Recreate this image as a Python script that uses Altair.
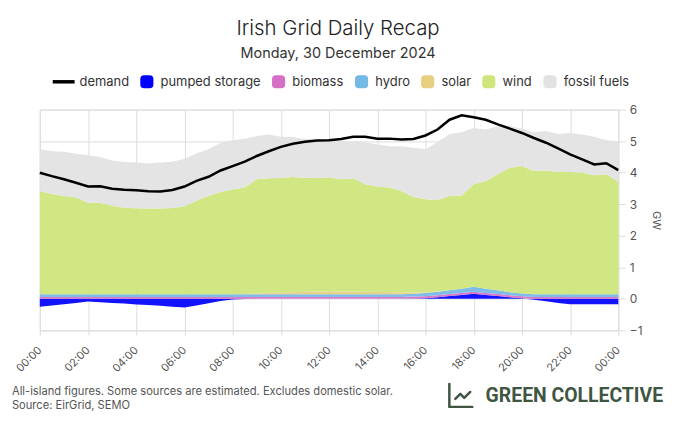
import altair as alt
import pandas as pd

# half-hourly timestamps, 30 Dec 2024 00:00 -> 31 Dec 2024 00:00
times = [f"2024-12-30T{h:02d}:{m:02d}:00" for h in range(24) for m in (0, 30)] + ["2024-12-31T00:00:00"]

demand = [4.00, 3.89, 3.79, 3.68, 3.56, 3.57, 3.49, 3.46, 3.44, 3.41,
          3.40, 3.45, 3.56, 3.74, 3.87, 4.07, 4.21, 4.35, 4.53, 4.68,
          4.82, 4.92, 4.98, 5.02, 5.03, 5.07, 5.14, 5.14, 5.08, 5.08,
          5.05, 5.07, 5.18, 5.37, 5.68, 5.82, 5.76, 5.68, 5.53, 5.40,
          5.26, 5.10, 4.95, 4.77, 4.58, 4.42, 4.26, 4.30, 4.08]

pumped = [-0.25, -0.21, -0.17, -0.13, -0.09, -0.11, -0.13, -0.15, -0.18, -0.20,
          -0.22, -0.25, -0.28, -0.21, -0.14, -0.07, -0.02, -0.01, 0.00, 0.00,
          0.00, 0.00, 0.00, 0.00, 0.00, 0.00, 0.00, 0.00, 0.00, 0.00,
          0.00, 0.01, 0.02, 0.05, 0.09, 0.12, 0.16, 0.12, 0.09, 0.05,
          0.02, -0.03, -0.08, -0.13, -0.17, -0.17, -0.17, -0.17, -0.17]

biomass = [0.06, 0.06, 0.06, 0.06, 0.06, 0.06, 0.06, 0.06, 0.06, 0.06,
           0.06, 0.06, 0.06, 0.06, 0.06, 0.06, 0.06, 0.06, 0.06, 0.06,
           0.06, 0.06, 0.06, 0.06, 0.06, 0.06, 0.06, 0.06, 0.06, 0.06,
           0.06, 0.06, 0.06, 0.06, 0.06, 0.06, 0.06, 0.06, 0.06, 0.06,
           0.06, 0.06, 0.06, 0.06, 0.06, 0.06, 0.06, 0.06, 0.06]

hydro = [0.08, 0.08, 0.08, 0.08, 0.08, 0.08, 0.08, 0.08, 0.08, 0.08,
         0.08, 0.08, 0.08, 0.08, 0.08, 0.08, 0.08, 0.08, 0.08, 0.08,
         0.08, 0.08, 0.08, 0.08, 0.08, 0.08, 0.08, 0.08, 0.08, 0.08,
         0.08, 0.09, 0.10, 0.11, 0.12, 0.14, 0.16, 0.14, 0.12, 0.10,
         0.09, 0.08, 0.08, 0.08, 0.08, 0.08, 0.08, 0.08, 0.08]

solar = [0.00, 0.00, 0.00, 0.00, 0.00, 0.00, 0.00, 0.00, 0.00, 0.00,
         0.00, 0.00, 0.00, 0.00, 0.00, 0.00, 0.00, 0.01, 0.03, 0.05,
         0.06, 0.07, 0.08, 0.09, 0.09, 0.09, 0.09, 0.08, 0.08, 0.07,
         0.06, 0.04, 0.02, 0.01, 0.00, 0.00, 0.00, 0.00, 0.00, 0.00,
         0.00, 0.00, 0.00, 0.00, 0.00, 0.00, 0.00, 0.00, 0.00]

wind = [3.28, 3.18, 3.12, 3.07, 2.91, 2.91, 2.81, 2.75, 2.73, 2.72,
        2.72, 2.74, 2.79, 2.97, 3.12, 3.25, 3.33, 3.38, 3.62, 3.63,
        3.63, 3.65, 3.62, 3.60, 3.62, 3.56, 3.59, 3.41, 3.34, 3.32,
        3.22, 3.03, 2.96, 2.90, 2.99, 2.96, 3.25, 3.42, 3.68, 3.95,
        4.04, 3.91, 3.93, 3.88, 3.88, 3.86, 3.78, 3.81, 3.57]

fossil = [1.32, 1.36, 1.40, 1.39, 1.50, 1.45, 1.44, 1.45, 1.45, 1.43,
          1.46, 1.47, 1.51, 1.50, 1.48, 1.56, 1.56, 1.55, 1.37, 1.39,
          1.31, 1.27, 1.23, 1.22, 1.20, 1.21, 1.18, 1.34, 1.33, 1.31,
          1.42, 1.56, 1.58, 1.84, 1.97, 2.00, 1.79, 1.63, 1.52, 1.31,
          1.18, 1.23, 1.25, 1.21, 1.24, 1.21, 1.22, 1.08, 1.29]

sources = ["pumped storage", "biomass", "hydro", "solar", "wind", "fossil fuels"]
area_colors = ["#0000ff", "#d670c6", "#74b8e6", "#e6cf7e", "#cde57a", "#e2e2e2"]

legend_names = ["demand"] + sources
legend_fill = ["#000000"] + area_colors
sq = ("M-0.05,-0.6 L0.45,-0.6 Q0.8,-0.6 0.8,-0.25 L0.8,0.25 Q0.8,0.6 0.45,0.6 "
      "L-0.05,0.6 Q-0.4,0.6 -0.4,0.25 L-0.4,-0.25 Q-0.4,-0.6 -0.05,-0.6 Z")
bar = "M-1,-0.16 L1,-0.16 L1,0.16 L-1,0.16 Z"
legend_shapes = [bar] + [sq] * 6

title_text = "Irish Grid Daily Recap"
subtitle_text = "Monday, 30 December 2024"
footer_1 = "All-island figures. Some sources are estimated. Excludes domestic solar."
footer_2 = "Source: EirGrid, SEMO"
logo_text = "GREEN COLLECTIVE"
icon_path = "M-1,-1 L-1,0.92 L0.92,0.92 M-0.5,0.25 L-0.08,-0.17 L0.25,0.17 L0.75,-0.33"

series = [pumped, biomass, hydro, solar, wind, fossil]
rows = []
for i, t in enumerate(times):
    for k, (s, arr) in enumerate(zip(sources, series)):
        rows.append({"time": t, "source": s, "value": arr[i], "ord": k})
    rows.append({"time": t, "source": "demand", "value": demand[i], "ord": 9})
df = pd.DataFrame(rows)
leg = pd.DataFrame({"name": legend_names})
one = pd.DataFrame({"k": [0]})

W, H = 582, 222
FONT = "Inter"

x_scale = alt.Scale(
    domain=[alt.DateTime(year=2024, month=12, date=30, hours=0),
            alt.DateTime(year=2024, month=12, date=31, hours=0)],
    nice=False)
x_axis = alt.Axis(
    values=[alt.DateTime(year=2024, month=12, date=30, hours=h) for h in range(0, 24, 2)]
    + [alt.DateTime(year=2024, month=12, date=31, hours=0)],
    format="%H:%M", labelAngle=-45, labelAlign="right", labelBaseline="middle",
    labelFontSize=11, labelColor="#555555", labelPadding=13, labelOverlap=False,
    labelFlush=False, domain=False, ticks=True, tickSize=5, tickColor="#dddddd",
    grid=True, gridColor="#dddddd", title=None, labelFont=FONT)

y_scale = alt.Scale(domain=[-1, 6], nice=False)
y_axis = alt.Axis(
    orient="right", values=[-1, 0, 1, 2, 3, 4, 5, 6], title="GW",
    titleFontSize=11, titleFontWeight="normal", titleColor="#555555", titlePadding=9,
    labelFontSize=12, labelColor="#555555", labelPadding=4, labelOverlap=False,
    labelFlush=False, labelBound=False, domain=False, ticks=True, tickSize=7,
    tickColor="#dddddd", grid=True, gridColor="#dddddd", labelFont=FONT, titleFont=FONT)

base = alt.Chart(df)

areas = base.transform_filter(alt.datum.source != "demand").mark_area(
    interpolate="linear", opacity=0.93).encode(
    x=alt.X("time:T", scale=x_scale, axis=x_axis),
    y=alt.Y("value:Q", stack="zero", scale=y_scale, axis=y_axis),
    color=alt.Color("source:N", scale=alt.Scale(domain=sources, range=area_colors), legend=None),
    order=alt.Order("ord:Q"),
)

line = base.transform_filter(alt.datum.source == "demand").mark_line(
    color="#000000", strokeWidth=2.5).encode(
    x=alt.X("time:T", scale=x_scale, axis=x_axis),
    y=alt.Y("value:Q", stack=None, scale=y_scale, axis=y_axis),
)

leg_common = dict(
    orient="none", legendX=13, legendY=-39, direction="horizontal", title=None,
    labelFontSize=13, labelColor="#333333", labelFont=FONT, labelOffset=5,
    columnPadding=4.5, symbolSize=484, symbolStrokeWidth=0,
)
legend_layer = alt.Chart(leg).transform_filter("false").mark_point(
    filled=True, opacity=1, strokeWidth=0).encode(
    fill=alt.Fill("name:N", scale=alt.Scale(domain=legend_names, range=legend_fill),
                  legend=alt.Legend(**leg_common)),
    shape=alt.Shape("name:N", scale=alt.Scale(domain=legend_names, range=legend_shapes),
                    legend=alt.Legend(**leg_common)),
)

foot1 = alt.Chart(one).mark_text(align="left", baseline="alphabetic", fontSize=11.2,
                                 color="#555555", font=FONT).encode(
    x=alt.value(-28), y=alt.value(287), text=alt.value(footer_1))
foot2 = alt.Chart(one).mark_text(align="left", baseline="alphabetic", fontSize=11.2,
                                 color="#555555", font=FONT).encode(
    x=alt.value(-28), y=alt.value(301), text=alt.value(footer_2))
logo = alt.Chart(one).mark_text(align="right", baseline="alphabetic", fontSize=19.5,
                                fontWeight="bold", color="#3e5642", font="Roboto").encode(
    x=alt.value(627), y=alt.value(294), text=alt.value(logo_text))
icon = alt.Chart(one).mark_point(shape=icon_path, size=576, filled=False, color="#3e5642",
                                 strokeWidth=2.5, opacity=1, strokeJoin="round",
                                 strokeCap="round").encode(
    x=alt.value(424), y=alt.value(288))

chart = alt.layer(areas, line, legend_layer, foot1, foot2, logo, icon).properties(
    width=W, height=H,
    autosize=alt.AutoSizeParams(type="none"),
    padding={"left": 32, "top": 101, "right": 54, "bottom": 90},
    title=alt.TitleParams(
        text=title_text, subtitle=subtitle_text,
        font=FONT, fontSize=20.5, fontWeight=300, color="#222222",
        subtitleFont=FONT, subtitleFontSize=14.5, subtitleColor="#333333",
        subtitlePadding=8, anchor="middle", offset=10, dx=9),
).configure_view(stroke=None).configure(background="white")

chart.save("out.html", embed_options={"renderer": "svg", "actions": False})
